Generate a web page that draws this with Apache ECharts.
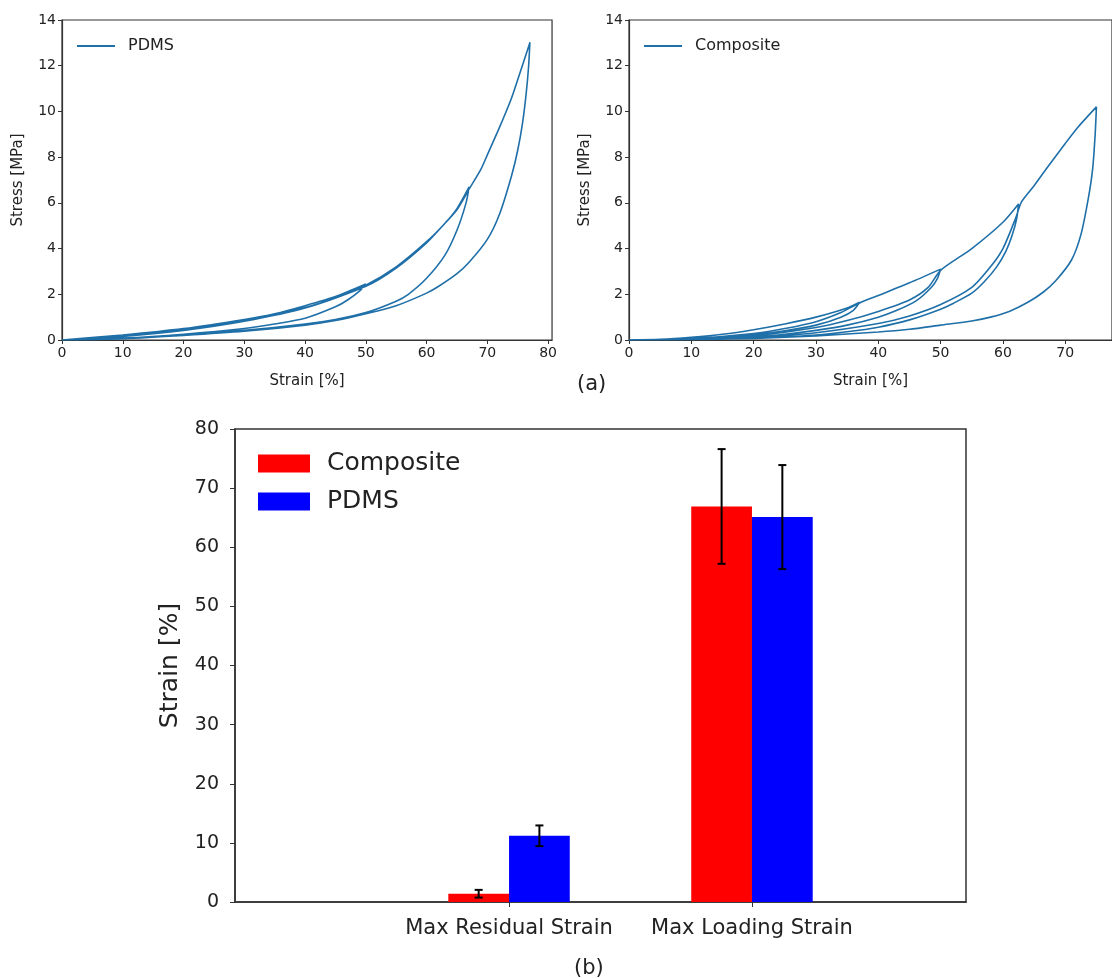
<!DOCTYPE html>
<html>
<head>
<meta charset="utf-8">
<script src="https://cdn.jsdelivr.net/npm/echarts@6/dist/echarts.min.js"></script>
<style>
  body { margin: 0; background: #fff; }
  .box { position: absolute; }
</style>
</head>
<body>
<div id="chartA" class="box" style="left:0;top:0;width:560px;height:410px"></div>
<div id="chartB" class="box" style="left:560px;top:0;width:552px;height:410px"></div>
<div id="chartC" class="box" style="left:0;top:410px;width:1112px;height:568px"></div>
<script>
// (a) left: PDMS loading / unloading cycles, strain [%] and stress [MPa]
var pdmsStrain = [0, 10, 20, 30, 35, 40, 45, 50,
  49, 47, 45, 40, 35, 30, 20, 10, 0,
  10, 20, 30, 40, 45, 50, 55, 60, 63, 65, 67,
  66.5, 65, 63, 60, 57, 55, 50, 45, 40, 30, 20, 10, 0,
  10, 20, 30, 40, 50, 55, 60, 63, 65, 67, 69, 70, 72, 74, 76, 77,
  76.8, 76.4, 75.8, 75, 74, 72, 70, 67, 65, 62, 60, 55, 50, 45, 40, 30, 20, 10, 0];
var pdmsStress = [0, 0.22, 0.5, 0.9, 1.15, 1.5, 1.9, 2.45,
  2.15, 1.75, 1.45, 0.95, 0.7, 0.5, 0.25, 0.08, 0,
  0.18, 0.45, 0.85, 1.42, 1.85, 2.4, 3.2, 4.3, 5.1, 5.75, 6.7,
  6.0, 4.8, 3.7, 2.7, 2.0, 1.7, 1.2, 0.9, 0.7, 0.42, 0.22, 0.07, 0,
  0.16, 0.42, 0.82, 1.4, 2.35, 3.15, 4.25, 5.1, 5.7, 6.6, 7.5, 8.1, 9.3, 10.6, 12.2, 13.0,
  12.0, 10.8, 9.5, 8.3, 7.2, 5.5, 4.4, 3.4, 2.9, 2.35, 2.05, 1.5, 1.15, 0.85, 0.65, 0.38, 0.2, 0.06, 0];

// (a) right: Composite cycles
var compStrain = [0, 5, 10, 15, 20, 25, 30, 35, 37,
  36, 34, 30, 25, 20, 15, 10, 5, 0,
  10, 20, 25, 30, 34, 37, 40, 45, 50,
  49.5, 48.5, 46, 43, 40, 35, 30, 25, 20, 10, 0,
  10, 20, 30, 35, 40, 45, 48, 50, 55, 60, 62.5,
  62.2, 61.5, 60.5, 59, 57, 55, 52, 50, 45, 40, 35, 30, 20, 10, 0,
  10, 20, 30, 40, 45, 50, 55, 58, 60, 62, 63, 65, 67, 70, 72, 75,
  74.8, 74.4, 73.7, 72.5, 71, 68.5, 66.5, 64, 61, 58, 55, 50, 45, 40, 30, 20, 10, 0];
var compStress = [0, 0.03, 0.12, 0.25, 0.45, 0.7, 1.0, 1.4, 1.65,
  1.3, 1.0, 0.65, 0.4, 0.22, 0.1, 0.04, 0.01, 0,
  0.06, 0.28, 0.5, 0.8, 1.2, 1.62, 1.95, 2.5, 3.1,
  2.7, 2.3, 1.7, 1.3, 1.0, 0.65, 0.42, 0.25, 0.13, 0.03, 0,
  0.05, 0.18, 0.55, 0.85, 1.25, 1.75, 2.3, 3.05, 4.0, 5.15, 5.95,
  5.3, 4.6, 3.9, 3.2, 2.55, 2.05, 1.6, 1.35, 0.88, 0.56, 0.36, 0.22, 0.08, 0.02, 0,
  0.04, 0.12, 0.32, 0.72, 1.05, 1.55, 2.3, 3.2, 4.0, 5.3, 6.05, 6.75, 7.5, 8.6, 9.3, 10.2,
  9.0, 7.5, 6.2, 4.6, 3.5, 2.6, 2.1, 1.65, 1.25, 1.0, 0.83, 0.65, 0.47, 0.35, 0.18, 0.07, 0.02, 0];

// (b) bars with error bars
var categories = ['Max Residual Strain', 'Max Loading Strain'];
var compositeMean = [1.4, 66.9];
var compositeErr = [0.65, 9.7];
var pdmsMean = [11.2, 65.1];
var pdmsErr = [1.75, 8.8];

var ink = '#333';
var lineColor = '#1f6fa8';
var font = 'DejaVu Sans';

function pairs(xs, ys) {
  return xs.map(function (x, i) { return [x, ys[i]]; });
}

function loopOption(name, xs, ys, gridLeft, gridWidth, xMax) {
  return {
    animation: false,
    grid: { left: gridLeft, top: 20, width: gridWidth, height: 320,
      show: true, borderColor: ink, borderWidth: 1.2 },
    legend: {
      left: gridLeft + 15, top: 38, padding: 0, itemWidth: 38, itemHeight: 2, icon: 'rect',
      data: [name],
      textStyle: { fontFamily: font, fontSize: 16, color: '#222', padding: [0, 0, 0, 8] }
    },
    xAxis: {
      type: 'value', min: 0, max: xMax, interval: 10,
      name: 'Strain [%]', nameLocation: 'middle', nameGap: 34,
      nameTextStyle: { fontFamily: font, fontSize: 15, color: '#222' },
      axisLine: { lineStyle: { color: ink, width: 1.2 } },
      axisTick: { length: 4, lineStyle: { color: ink } },
      axisLabel: { fontFamily: font, fontSize: 14, color: '#222', margin: 6,
        showMaxLabel: false },
      splitLine: { show: false }
    },
    yAxis: {
      type: 'value', min: 0, max: 14, interval: 2,
      name: 'Stress [MPa]', nameLocation: 'middle', nameGap: 36,
      nameTextStyle: { fontFamily: font, fontSize: 15, color: '#222' },
      axisLine: { show: true, lineStyle: { color: ink, width: 1.2 } },
      axisTick: { show: true, length: 4, lineStyle: { color: ink } },
      axisLabel: { fontFamily: font, fontSize: 14, color: '#222', margin: 6 },
      splitLine: { show: false }
    },
    series: [{
      name: name, type: 'line', symbol: 'none', smooth: 0.25,
      lineStyle: { color: lineColor, width: 1.6 },
      itemStyle: { color: lineColor },
      data: pairs(xs, ys)
    }]
  };
}

var chartA = echarts.init(document.getElementById('chartA'));
chartA.setOption(loopOption('PDMS', pdmsStrain, pdmsStress, 62, 494, 80.65));

var chartB = echarts.init(document.getElementById('chartB'));
var optB = loopOption('Composite', compStrain, compStress, 69, 486, 77.5);
optB.graphic = [{ type: 'text', left: 17, top: 374,
  style: { text: '(a)', fontFamily: font, fontSize: 21, fill: '#222' } }];
chartB.setOption(optB);

// bar chart: value x axis so the categories sit where they do in the figure
function barSeries(name, color, means, offset) {
  return {
    name: name, type: 'custom',
    itemStyle: { color: color },
    renderItem: function (params, api) {
      var x = api.value(0), y = api.value(1);
      var p0 = api.coord([x + offset - 0.125, y]);
      var p1 = api.coord([x + offset + 0.125, 0]);
      return { type: 'rect',
        shape: { x: p0[0], y: p0[1], width: p1[0] - p0[0], height: p1[1] - p0[1] },
        style: { fill: color } };
    },
    data: means.map(function (v, i) { return [i, v]; }),
    z: 2
  };
}

function errSeries(means, errs, offset) {
  return {
    type: 'custom', silent: true,
    renderItem: function (params, api) {
      var x = api.value(0) + offset;
      var hi = api.coord([x, api.value(1) + api.value(2)]);
      var lo = api.coord([x, api.value(1) - api.value(2)]);
      var style = { stroke: '#000', lineWidth: 2 };
      return { type: 'group', children: [
        { type: 'line', shape: { x1: hi[0], y1: hi[1], x2: lo[0], y2: lo[1] }, style: style },
        { type: 'line', shape: { x1: hi[0] - 4, y1: hi[1], x2: hi[0] + 4, y2: hi[1] }, style: style },
        { type: 'line', shape: { x1: lo[0] - 4, y1: lo[1], x2: lo[0] + 4, y2: lo[1] }, style: style }
      ] };
    },
    data: means.map(function (v, i) { return [i, v, errs[i]]; }),
    z: 3
  };
}

var chartC = echarts.init(document.getElementById('chartC'));
chartC.setOption({
  animation: false,
  grid: { left: 235, top: 19, width: 731, height: 473,
    show: true, borderColor: ink, borderWidth: 1.5 },
  legend: {
    orient: 'vertical', left: 258, top: 41, padding: 0, icon: 'rect',
    itemWidth: 52, itemHeight: 18, itemGap: 13,
    data: ['Composite', 'PDMS'],
    textStyle: { fontFamily: font, fontSize: 25, color: '#222', padding: [0, 0, 0, 12] }
  },
  xAxis: {
    type: 'value', min: -1.128, max: 1.881,
    axisLine: { onZero: false, lineStyle: { color: ink, width: 1.5 } },
    axisTick: { customValues: [0, 1], length: 5, lineStyle: { color: ink } },
    axisLabel: { customValues: [0, 1], fontFamily: font, fontSize: 21, color: '#222', margin: 16,
      formatter: function (v) { return categories[Math.round(v)]; } },
    splitLine: { show: false }
  },
  yAxis: {
    type: 'value', min: 0, max: 80, interval: 10,
    name: 'Strain [%]', nameLocation: 'middle', nameGap: 52,
    nameTextStyle: { fontFamily: font, fontSize: 25, color: '#222' },
    axisLine: { show: true, onZero: false, lineStyle: { color: ink, width: 1.5 } },
    axisTick: { show: true, length: 5, lineStyle: { color: ink } },
    axisLabel: { fontFamily: font, fontSize: 19, color: '#222', margin: 16 },
    splitLine: { show: false }
  },
  graphic: [{ type: 'text', left: 574, top: 548,
    style: { text: '(b)', fontFamily: font, fontSize: 21, fill: '#222' } }],
  series: [
    barSeries('Composite', '#ff0000', compositeMean, -0.125),
    barSeries('PDMS', '#0000ff', pdmsMean, 0.125),
    errSeries(compositeMean, compositeErr, -0.125),
    errSeries(pdmsMean, pdmsErr, 0.125)
  ]
});
</script>
</body>
</html>
